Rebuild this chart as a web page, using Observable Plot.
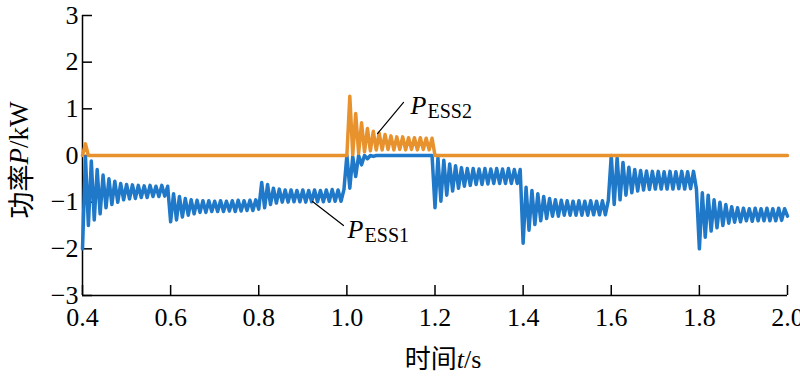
<!DOCTYPE html>
<html><head><meta charset="utf-8">
<script src="https://cdn.jsdelivr.net/npm/d3@7"></script>
<script src="https://cdn.jsdelivr.net/npm/@observablehq/plot@0.6"></script>
<style>
body{margin:0;background:#fff}
#chart{width:800px;height:376px}
#chart svg text{font-family:"Liberation Serif","Times New Roman",serif}
#chart svg tspan.cjk{font-family:"Noto Sans CJK SC",sans-serif}
</style>
</head><body><div id="chart"></div>
<script>
// ---- data ----
const xTicks = [0.4, 0.6, 0.8, 1.0, 1.2, 1.4, 1.6, 1.8, 2.0];
const yTicks = [-3, -2, -1, 0, 1, 2, 3];
const segStarts = [0.4, 0.6, 0.8, 1.0, 1.2, 1.4, 1.6, 1.8];
const segLength = 0.2;
const samplesPerSeg = 30;

// P_ESS1 (kW), samples within each 0.2 s interval
const ess1_04 = [-2.0, -0.02, -1.5, -0.12, -1.38, -0.3, -1.25, -0.42, -1.12, -0.5, -1.05, -0.55, -1.0, -0.6, -0.95, -0.62, -0.93, -0.63, -0.92, -0.64, -0.9, -0.65, -0.9, -0.64, -0.88, -0.66, -0.88, -0.64, -0.87, -0.66];
const ess1_06 = [-1.42, -0.82, -1.38, -0.88, -1.32, -0.92, -1.28, -0.95, -1.25, -0.96, -1.22, -0.97, -1.22, -0.97, -1.2, -0.98, -1.2, -0.97, -1.2, -0.98, -1.19, -0.97, -1.2, -0.96, -1.19, -0.97, -1.18, -0.96, -1.18, -0.95];
const ess1_08 = [-1.15, -0.58, -1.12, -0.62, -1.05, -0.7, -1.02, -0.72, -1.0, -0.74, -1.0, -0.74, -0.99, -0.75, -0.99, -0.74, -1.0, -0.75, -0.99, -0.74, -0.99, -0.75, -0.99, -0.74, -0.98, -0.73, -0.98, -0.74, -0.98, -0.73];
const ess1_10 = [0.0, -0.7, -0.02, -0.45, 0.0, -0.2, 0.0, -0.07, 0.0, -0.02, 0.0, 0.0, 0.0, 0.0, 0.0, 0.0, 0.0, 0.0, 0.0, 0.0, 0.0, 0.0, 0.0, 0.0, 0.0, 0.0, 0.0, 0.0, 0.0, 0.0];
const ess1_12 = [-1.12, -0.05, -0.98, -0.1, -0.85, -0.18, -0.76, -0.22, -0.7, -0.26, -0.66, -0.28, -0.64, -0.28, -0.62, -0.29, -0.62, -0.28, -0.61, -0.29, -0.6, -0.28, -0.6, -0.29, -0.6, -0.28, -0.6, -0.3, -0.6, -0.3];
const ess1_14 = [-1.88, -0.68, -1.6, -0.75, -1.48, -0.82, -1.4, -0.88, -1.35, -0.92, -1.3, -0.95, -1.3, -0.96, -1.28, -0.97, -1.28, -0.98, -1.28, -0.97, -1.28, -0.98, -1.28, -0.97, -1.27, -0.98, -1.27, -0.97, -1.27, -0.96];
const ess1_16 = [0.0, -1.05, -0.05, -0.95, -0.15, -0.85, -0.25, -0.8, -0.3, -0.76, -0.32, -0.74, -0.33, -0.73, -0.34, -0.72, -0.34, -0.72, -0.35, -0.72, -0.34, -0.72, -0.35, -0.71, -0.34, -0.72, -0.35, -0.71, -0.34, -0.72];
const ess1_18 = [-2.0, -0.8, -1.75, -0.85, -1.62, -0.95, -1.55, -1.0, -1.5, -1.05, -1.45, -1.1, -1.43, -1.12, -1.42, -1.13, -1.4, -1.14, -1.41, -1.13, -1.4, -1.14, -1.4, -1.13, -1.4, -1.14, -1.4, -1.13, -1.39, -1.14];
const ess1End = -1.3;

// P_ESS2 (kW)
const ess2_04 = [0.0, 0.25, 0.0];
const ess2_06 = [0.0];
const ess2_08 = [0.0];
const ess2_10 = [0.0, 1.27, 0.02, 0.9, 0.05, 0.7, 0.08, 0.58, 0.1, 0.52, 0.12, 0.48, 0.12, 0.45, 0.13, 0.42, 0.12, 0.4, 0.13, 0.4, 0.12, 0.38, 0.13, 0.38, 0.12, 0.38, 0.13, 0.37, 0.12, 0.37];
const ess2_12 = [0.0];
const ess2_14 = [0.0];
const ess2_16 = [0.0];
const ess2_18 = [0.0];
const ess2End = 0.0;

// annotation anchors (t, P)
const ess2Leader = [{t: 1.0695, p: 0.47}, {t: 1.1286, p: 1.136}];
const ess1Leader = [{t: 0.922, p: -0.985}, {t: 0.9924, p: -1.5}];
const ess2Label = {t: 1.1444, p: 0.9, main: "P", sub: "ESS2"};
const ess1Label = {t: 1.0015, p: -1.778, main: "P", sub: "ESS1"};

function build(segs, endValue) {
  const pts = [];
  segs.forEach((vals, k) => vals.forEach((v, i) => pts.push({t: segStarts[k] + i * segLength / samplesPerSeg, p: v})));
  pts.push({t: 2.0, p: endValue});
  return pts;
}
const ess1 = build([ess1_04, ess1_06, ess1_08, ess1_10, ess1_12, ess1_14, ess1_16, ess1_18], ess1End);
const ess2 = build([ess2_04, ess2_06, ess2_08, ess2_10, ess2_12, ess2_14, ess2_16, ess2_18], ess2End);

const blue = "#1f78c8";
const orange = "#e8922e";
const serif = "'Liberation Serif', 'Times New Roman', serif";

const plot = Plot.plot({
  width: 800, height: 376,
  marginLeft: 82, marginRight: 13, marginTop: 15, marginBottom: 81,
  x: {domain: [0.4, 2.0]},
  y: {domain: [-3, 3]},
  style: {fontFamily: serif, fontSize: "26px", color: "#000", background: "#fff", overflow: "visible"},
  marks: [
    Plot.axisX({ticks: xTicks, tickSize: -10, tickPadding: 22, tickFormat: d3.format(".1f"), label: null, fontSize: 26, strokeWidth: 1.5}),
    Plot.axisY({ticks: yTicks, tickSize: -10, tickPadding: 14, tickFormat: d3.format("d"), label: null, fontSize: 26, strokeWidth: 1.5}),
    Plot.ruleX([0.4], {stroke: "#000", strokeWidth: 1.5}),
    Plot.ruleY([-3], {stroke: "#000", strokeWidth: 1.5}),
    Plot.line(ess1, {x: "t", y: "p", stroke: blue, strokeWidth: 3.5, strokeLinejoin: "round"}),
    Plot.line(ess2, {x: "t", y: "p", stroke: orange, strokeWidth: 3.5, strokeLinejoin: "round"}),
    Plot.line(ess2Leader, {x: "t", y: "p", stroke: "#000", strokeWidth: 1.2}),
    Plot.line(ess1Leader, {x: "t", y: "p", stroke: "#000", strokeWidth: 1.2}),
    Plot.text([ess2Label, ess1Label], {x: "t", y: "p", text: "main", textAnchor: "start", lineAnchor: "bottom", fontStyle: "italic", fontSize: 26}),
    Plot.text([ess2Label, ess1Label], {x: "t", y: "p", text: "sub", textAnchor: "start", lineAnchor: "bottom", fontSize: 20, dx: 17, dy: 4})
  ]
});
document.getElementById("chart").appendChild(plot);

const svg = d3.select(plot);
const yl = svg.append("text")
  .attr("transform", "translate(19,160) rotate(-90)")
  .attr("text-anchor", "middle").attr("dominant-baseline", "central")
  .style("font-size", "27px");
yl.append("tspan").attr("class", "cjk").text("功率");
yl.append("tspan").style("font-style", "italic").text("P");
yl.append("tspan").text("/kW");

const xl = svg.append("text")
  .attr("x", 443).attr("y", 368)
  .attr("text-anchor", "middle")
  .style("font-size", "26px");
xl.append("tspan").attr("class", "cjk").text("时间");
xl.append("tspan").style("font-style", "italic").text("t");
xl.append("tspan").text("/s");
</script>
</body></html>
